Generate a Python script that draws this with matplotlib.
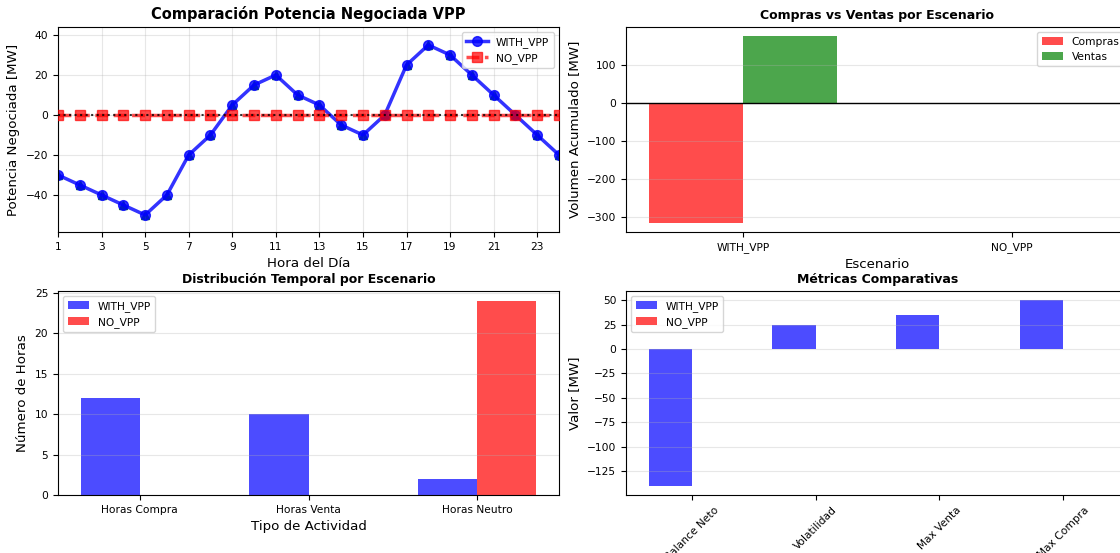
import matplotlib
matplotlib.use("Agg")
import matplotlib.pyplot as plt
import numpy as np

plt.rcParams["font.family"] = ["DejaVu Sans"]

# Hourly negotiated power per scenario [MW]
hours = np.arange(1, 25)
with_vpp = [-30, -35, -40, -45, -50, -40, -20, -10, 5, 15, 20, 10,
            5, -5, -10, 0, 25, 35, 30, 20, 10, 0, -10, -20]
no_vpp = [0] * 24

# Accumulated purchases / sales per scenario [MW]
scenarios = ["WITH_VPP", "NO_VPP"]
compras = [-315, 0]
ventas = [175, 0]

# Hours by activity type
activity_labels = ["Horas Compra", "Horas Venta", "Horas Neutro"]
hours_with = [12, 10, 2]
hours_without = [0, 0, 24]

# Comparative metrics [MW]
metric_labels = ["Balance Neto", "Volatilidad", "Max Venta", "Max Compra"]
metrics_with = [-140, 24.3, 35, 50]
metrics_without = [0, 0, 0, 0]

TICK = 7.7
LABEL = 9.6
LEGEND = 7.7
W, H = 1120, 553


def rect(left, top, right, bottom):
    return [left / W, (H - bottom) / H, (right - left) / W, (bottom - top) / H]


fig = plt.figure(figsize=(11.2, 5.53), dpi=100)
ax1 = fig.add_axes(rect(58, 27, 559, 232))
ax2 = fig.add_axes(rect(626, 27, 1129, 232))
ax3 = fig.add_axes(rect(58, 291, 559, 495))
ax4 = fig.add_axes(rect(626, 291, 1129, 495))

# --- hourly power
ax1.plot(hours, with_vpp, marker="^", color="green", ms=6, lw=0, zorder=1)
ax1.plot(hours, with_vpp, "o-", color="blue", lw=2.5, ms=7, alpha=0.8,
         label="WITH_VPP", zorder=2)
ax1.plot(hours, no_vpp, "s--", color="red", lw=2.5, ms=7, alpha=0.7,
         label="NO_VPP", zorder=3)
ax1.axhline(0, color="black", linestyle=":", lw=1.5, alpha=0.8, zorder=4)
ax1.set_xlim(1, 24)
ax1.set_ylim(-58.5, 44)
ax1.set_xticks(np.arange(1, 25, 2))
ax1.set_title("Comparación Potencia Negociada VPP", fontsize=10.5,
              fontweight="bold")
ax1.set_xlabel("Hora del Día", fontsize=LABEL)
ax1.set_ylabel("Potencia Negociada [MW]", fontsize=LABEL)
ax1.grid(True, alpha=0.3)
ax1.legend(loc="upper right", fontsize=LEGEND)

# --- purchases vs sales
width = 0.35
x = np.arange(len(scenarios))
ax2.bar(x - width / 2, compras, width, color="red", alpha=0.7, label="Compras")
ax2.bar(x + width / 2, ventas, width, color="green", alpha=0.7, label="Ventas")
ax2.axhline(0, color="black", lw=1)
ax2.set_xticks(x, scenarios)
ax2.set_title("Compras vs Ventas por Escenario", fontsize=9, fontweight="bold")
ax2.set_xlabel("Escenario", fontsize=LABEL)
ax2.set_ylabel("Volumen Acumulado [MW]", fontsize=LABEL)
ax2.grid(True, axis="y", alpha=0.3)
ax2.legend(loc="upper right", fontsize=LEGEND)

# --- hours per activity type
x = np.arange(len(activity_labels))
ax3.bar(x - width / 2, hours_with, width, color="blue", alpha=0.7, label="WITH_VPP")
ax3.bar(x + width / 2, hours_without, width, color="red", alpha=0.7, label="NO_VPP")
ax3.set_xticks(x, activity_labels)
ax3.set_title("Distribución Temporal por Escenario", fontsize=9,
              fontweight="bold")
ax3.set_xlabel("Tipo de Actividad", fontsize=LABEL)
ax3.set_ylabel("Número de Horas", fontsize=LABEL)
ax3.grid(True, axis="y", alpha=0.3)
ax3.legend(loc="upper left", fontsize=LEGEND)

# --- comparative metrics
x = np.arange(len(metric_labels))
ax4.bar(x - width / 2, metrics_with, width, color="blue", alpha=0.7, label="WITH_VPP")
ax4.bar(x + width / 2, metrics_without, width, color="red", alpha=0.7, label="NO_VPP")
ax4.set_xticks(x, metric_labels, rotation=45)
ax4.set_title("Métricas Comparativas", fontsize=9, fontweight="bold")
ax4.set_ylabel("Valor [MW]", fontsize=LABEL)
ax4.grid(True, axis="y", alpha=0.3)
ax4.legend(loc="upper left", fontsize=LEGEND)

for ax in (ax1, ax2, ax3, ax4):
    ax.tick_params(labelsize=TICK)

fig.savefig("out.png", dpi=100)
